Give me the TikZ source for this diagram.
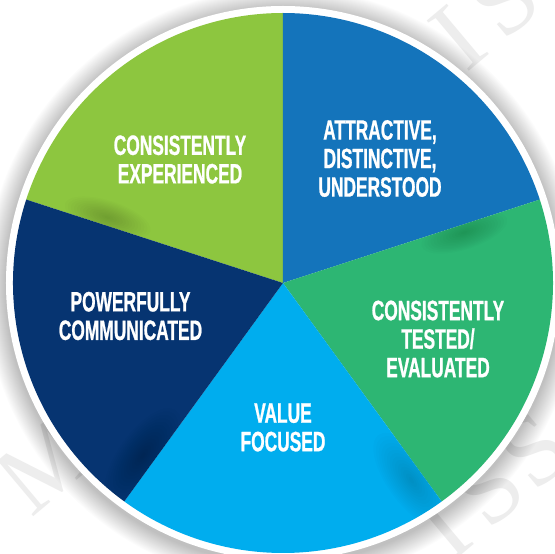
\documentclass[tikz,border=0pt]{standalone}
\usepackage{fontspec}
\setmainfont{Liberation Sans}
\newfontfamily\labfont{Liberation Sans}[FakeStretch=0.62,FakeBold=0.8]
\newfontfamily\wmfont{Liberation Serif}
\definecolor{cLime}{RGB}{141,198,63}
\definecolor{cBlue}{RGB}{20,116,187}
\definecolor{cGreen}{RGB}{45,182,115}
\definecolor{cLight}{RGB}{0,173,238}
\definecolor{cNavy}{RGB}{6,52,113}
\begin{document}
\begin{tikzpicture}[x=1pt,y=1pt,
  lab/.style={text=white, font=\labfont\bfseries\fontsize{28}{28.5}\selectfont, align=center, inner sep=0pt},
  wm/.style={text=black!7, font=\wmfont\fontsize{100}{100}\selectfont, rotate=40, inner sep=0pt},
  fold/.style={black, opacity=0.012}]
\useasboundingbox (-283,-271) rectangle (272,283);
\fill[white] (-283,-271) rectangle (272,283);
% faint watermark letters
\node[wm] (wm1) at (-238,-182) {M};
\node[wm] (wm2) at (175,245) {I};
\node[wm] (wm3) at (221,283) {S};
\node[wm] (wm5) at (160,-245) {I};
\node[wm] (wm6) at (206,-206) {S};
\node[wm] (wm7) at (252,-168) {S};
% soft shadow
\foreach \r in {278,...,298} \fill[black, opacity=0.011] (0,-3) circle[radius=\r];
% white ring
\fill[white] (0,0) circle[radius=277];
% slices
\def\R{270}
\fill[cLime]  (0,0) -- (90:\R)  arc[start angle=90,  end angle=162, radius=\R] -- cycle;
\fill[cBlue]  (0,0) -- (18:\R)  arc[start angle=18,  end angle=90,  radius=\R] -- cycle;
\fill[cGreen] (0,0) -- (-54:\R) arc[start angle=-54, end angle=18,  radius=\R] -- cycle;
\fill[cLight] (0,0) -- (-126:\R) arc[start angle=-126, end angle=-54, radius=\R] -- cycle;
\fill[cNavy]  (0,0) -- (162:\R) arc[start angle=162, end angle=234, radius=\R] -- cycle;
% fold shadows (soft blobs beside an edge)
\begin{scope}
\clip (0,0) -- (90:\R) arc[start angle=90, end angle=162, radius=\R] -- cycle;
\begin{scope}[shift={(162:187)}, rotate=162]
\foreach \k in {1,...,14} \fill[fold] (0,-8) ellipse[x radius=3.2*\k, y radius=1.2*\k];
\end{scope}
\end{scope}
\begin{scope}
\clip (0,0) -- (-54:\R) arc[start angle=-54, end angle=18, radius=\R] -- cycle;
\begin{scope}[shift={(18:188)}, rotate=18]
\foreach \k in {1,...,14} \fill[fold] (0,-8) ellipse[x radius=3.2*\k, y radius=1.2*\k];
\end{scope}
\end{scope}
\begin{scope}
\clip (0,0) -- (-126:\R) arc[start angle=-126, end angle=-54, radius=\R] -- cycle;
\begin{scope}[shift={(-54:235)}, rotate=-54]
\foreach \k in {1,...,14} \fill[fold] (0,-12) ellipse[x radius=4*\k, y radius=1.7*\k];
\end{scope}
\end{scope}
\begin{scope}
\clip (0,0) -- (162:\R) arc[start angle=162, end angle=234, radius=\R] -- cycle;
\begin{scope}[shift={(234:222)}, rotate=234]
\foreach \k in {1,...,14} \fill[fold] (0,-12) ellipse[x radius=4*\k, y radius=1.7*\k];
\end{scope}
\end{scope}
% labels
\node[lab] (t1) at (-103,123.5) {CONSISTENTLY\\EXPERIENCED};
\node[lab] (t2) at (97,124.5) {ATTRACTIVE,\\DISTINCTIVE,\\UNDERSTOOD};
\node[lab] (t3) at (155,-56) {CONSISTENTLY\\TESTED/\\EVALUATED};
\node[lab] (t4) at (0,-144.5) {VALUE\\FOCUSED};
\node[lab] (t5) at (-152.5,-33) {POWERFULLY\\COMMUNICATED};
\end{tikzpicture}
\end{document}
